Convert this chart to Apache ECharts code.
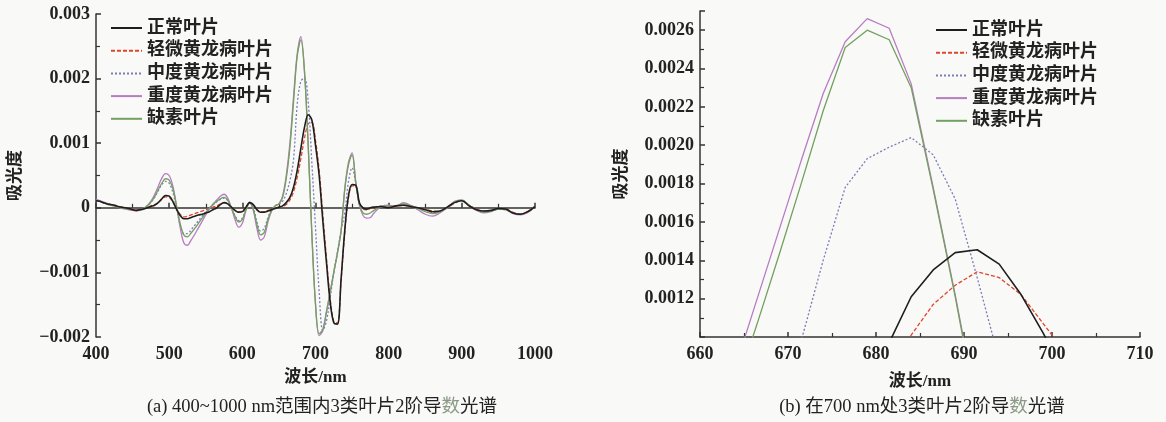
<!DOCTYPE html>
<html><head><meta charset="utf-8">
<script src="https://cdn.jsdelivr.net/npm/echarts@6/dist/echarts.min.js"></script>
<style>html,body{margin:0;padding:0;background:#f9f9f7}#c{width:1166px;height:422px}</style>
</head><body><div id="c"></div>
<script>
// ---------- DATA ----------
const seriesNames = ['正常叶片','轻微黄龙病叶片','中度黄龙病叶片','重度黄龙病叶片','缺素叶片'];

// panel (a): wavelength (nm)
const wlA = [];
for (let w = 400; w <= 780; w += 5) wlA.push(w);
for (let w = 790; w <= 1000; w += 10) wlA.push(w);

const normalA = [0.00011,0.00010,0.00008,0.00006,0.00005,0.00004,0.00002,0.00001,0.0,-0.00001,-0.00003,-0.00004,-0.00003,-0.00002,0.0,0.00002,0.00004,0.00008,0.00014,0.00019,0.00018,0.00010,-0.00002,-0.00012,-0.00017,-0.00017,-0.00015,-0.00013,-0.00011,-0.00010,-0.00008,-0.00006,-0.00003,0.0,0.00005,0.00008,0.00006,0.00001,-0.00004,-0.00007,-0.00006,0.00001,0.00008,0.00005,-0.00003,-0.00007,-0.00007,-0.00005,-0.00003,-0.00001,0.00001,0.00003,0.00008,0.00016,0.00032,0.00058,0.00092,0.00125,0.00144,0.00136,0.00097,0.00050,-0.00020,-0.00085,-0.00145,-0.00178,-0.00180,-0.00110,-0.00035,0.00018,0.00036,0.00035,0.00008,0.0,-0.00002,0.0,0.00001,
0.00002,0.0,0.00003,0.00004,0.00002,0.0,-0.00003,-0.00006,-0.00005,0.00001,0.00008,0.00011,0.00003,-0.00003,-0.00005,-0.00004,-0.00001,-0.00002,-0.00008,-0.00010,-0.00006,0.00002];
const mildA = [0.00012,0.00010,0.00008,0.00007,0.00005,0.00004,0.00003,0.00001,0.0,-0.00001,-0.00002,-0.00003,-0.00003,-0.00001,0.00001,0.00003,0.00005,0.00008,0.00013,0.00017,0.00016,0.00009,-0.00002,-0.00010,-0.00014,-0.00013,-0.00011,-0.00009,-0.00007,-0.00005,-0.00003,-0.00001,0.00001,0.00003,0.00006,0.00008,0.00006,0.00001,-0.00004,-0.00006,-0.00005,0.00001,0.00007,0.00004,-0.00003,-0.00006,-0.00006,-0.00004,-0.00002,0.0,0.00001,0.00002,0.00005,0.00012,0.00025,0.00047,0.00076,0.00108,0.00130,0.00132,0.00104,0.00058,-0.00010,-0.00078,-0.00140,-0.00176,-0.00178,-0.00112,-0.00038,0.00015,0.00034,0.00033,0.00006,-0.00002,-0.00003,-0.00001,0.0,
0.00002,0.00001,0.00002,0.00004,0.00003,0.0,-0.00002,-0.00005,-0.00005,0.0,0.00007,0.00011,0.00004,-0.00002,-0.00005,-0.00005,-0.00002,-0.00002,-0.00007,-0.00010,-0.00007,0.00002];
const moderateA = [0.00012,0.00010,0.00008,0.00006,0.00004,0.00003,0.00001,0.0,-0.00001,-0.00002,-0.00003,-0.00004,-0.00003,-0.00001,0.00003,0.00008,0.00016,0.00026,0.00036,0.00041,0.00038,0.00024,0.0,-0.00026,-0.00040,-0.00040,-0.00034,-0.00027,-0.00020,-0.00013,-0.00006,0.0,0.00005,0.00009,0.00013,0.00015,0.00011,0.0,-0.00012,-0.00020,-0.00016,-0.00002,0.00008,0.0,-0.00022,-0.00036,-0.00032,-0.00015,-0.00003,0.00003,0.00006,0.00010,0.00022,0.00042,0.00075,0.00160,0.00196,0.00201,0.00165,0.00070,-0.00030,-0.00130,-0.00190,-0.00175,-0.00140,-0.00100,-0.00068,-0.00035,-0.00008,0.00040,0.00062,0.00038,0.00005,-0.00002,-0.00002,0.0,0.00001,
0.00003,0.00001,0.00003,0.00005,0.00003,0.0,-0.00003,-0.00007,-0.00006,0.0,0.00008,0.00012,0.00004,-0.00003,-0.00006,-0.00005,-0.00002,-0.00003,-0.00008,-0.00010,-0.00006,0.00003];
const severeA = [0.00013,0.00011,0.00009,0.00007,0.00005,0.00003,0.00001,-0.00001,-0.00002,-0.00003,-0.00004,-0.00005,-0.00004,-0.00002,0.00003,0.00010,0.00020,0.00033,0.00046,0.00053,0.00050,0.00034,0.00004,-0.00030,-0.00054,-0.00058,-0.00050,-0.00041,-0.00031,-0.00021,-0.00011,-0.00002,0.00006,0.00012,0.00018,0.00021,0.00015,0.0,-0.00018,-0.00030,-0.00024,-0.00004,0.00009,-0.00004,-0.00032,-0.00050,-0.00045,-0.00022,-0.00005,0.00003,0.00006,0.00018,0.00050,0.00100,0.00172,0.00238,0.00265,0.00210,0.00098,-0.00040,-0.00150,-0.00198,-0.00190,-0.00160,-0.00130,-0.00100,-0.00070,-0.00035,0.00030,0.00070,0.00085,0.00040,0.00005,-0.00012,-0.00016,-0.00015,-0.00008,
0.00002,0.00004,0.00002,0.00008,0.00004,-0.00003,-0.00010,-0.00013,-0.00008,0.0,0.00010,0.00012,0.00003,-0.00004,-0.00008,-0.00006,-0.00002,-0.00003,-0.00009,-0.00011,-0.00007,0.00002];
const deficiencyA = [0.00012,0.00010,0.00008,0.00006,0.00004,0.00003,0.00001,0.0,-0.00001,-0.00002,-0.00003,-0.00004,-0.00003,-0.00001,0.00003,0.00009,0.00017,0.00028,0.00038,0.00045,0.00043,0.00030,0.00003,-0.00024,-0.00042,-0.00045,-0.00039,-0.00032,-0.00024,-0.00016,-0.00008,-0.00001,0.00005,0.00010,0.00014,0.00016,0.00012,0.0,-0.00013,-0.00022,-0.00018,-0.00003,0.00008,-0.00002,-0.00026,-0.00042,-0.00038,-0.00018,-0.00004,0.00003,0.00006,0.00016,0.00045,0.00093,0.00164,0.00235,0.00260,0.00210,0.00097,-0.00040,-0.00148,-0.00195,-0.00188,-0.00162,-0.00132,-0.00100,-0.00070,-0.00036,0.00028,0.00066,0.00082,0.00040,0.00005,-0.00008,-0.00010,-0.00008,-0.00004,
0.00002,0.00002,0.00003,0.00006,0.00003,-0.00001,-0.00006,-0.00009,-0.00006,0.0,0.00009,0.00012,0.00004,-0.00003,-0.00007,-0.00005,-0.00002,-0.00003,-0.00008,-0.00010,-0.00006,0.00002];

// panel (b): wavelength (nm)
const wlB = [661.5,664,666.5,669,671.5,674,676.5,679,681.5,684,686.5,689,691.5,694,696.5,699,701.5,704];
const normalB     = [0.00006,0.00012,0.00020,0.00030,0.00042,0.00055,0.00066,0.00078,0.00097,0.00121,0.00135,0.00144,0.001455,0.00138,0.00122,0.00102,0.00080,0.00058];
const mildB       = [0.00004,0.00009,0.00015,0.00022,0.00031,0.00041,0.00053,0.00066,0.00083,0.00101,0.00117,0.00127,0.00134,0.00131,0.00122,0.00107,0.00092,0.00065];
const moderateB   = [0.00012,0.00024,0.00040,0.00063,0.00098,0.00140,0.00178,0.00193,0.00199,0.00204,0.00195,0.00172,0.00131,0.00088,0.00030,-0.00020,-0.00080,-0.00130];
const severeB     = [0.00030,0.00084,0.00120,0.00156,0.00192,0.00227,0.00254,0.00266,0.00261,0.00232,0.00178,0.00122,0.00062,-0.00010,-0.00080,-0.00150,-0.00190,-0.00195];
const deficiencyB = [0.00030,0.00072,0.00107,0.00143,0.00180,0.00218,0.00251,0.00260,0.00255,0.00230,0.00177,0.00121,0.00060,-0.00010,-0.00080,-0.00148,-0.00188,-0.00193];

const yTicksB = ['0.0012','0.0014','0.0016','0.0018','0.0020','0.0022','0.0024','0.0026'];

// ---------- CHART ----------
const FONT = "'Liberation Serif','Noto Sans CJK SC',serif";
const colors = ['#1e1e1e','#e0452f','#7c7cb8','#b87cc2','#72a05e'];
const lineTypes = ['solid',[4,2],[2,2],'solid','solid'];
const widths = [1.6,1.3,1.3,1.3,1.3];

function pairs(xs, ys){ return xs.map((x,i)=>[x, ys[i]]); }
const dataA = [normalA, mildA, moderateA, severeA, deficiencyA];
const dataB = [normalB, mildB, moderateB, severeB, deficiencyB];

const axisCommon = {
  axisLine:{show:true, lineStyle:{color:'#333', width:1.5}},
  axisTick:{show:true, inside:true, length:5, lineStyle:{color:'#333', width:1.5}},
  minorTick:{show:true, splitNumber:2, length:4, lineStyle:{color:'#333', width:1.2}},
  splitLine:{show:false},
  axisLabel:{color:'#222', fontFamily:FONT, fontSize:18, fontWeight:'bold'},
  nameTextStyle:{color:'#222', fontFamily:FONT, fontSize:17, fontWeight:'bold'}
};
function axis(extra){ return Object.assign({}, JSON.parse(JSON.stringify(axisCommon)), extra, {
  axisLabel:Object.assign({}, axisCommon.axisLabel, extra.axisLabel||{}) }); }

const series = [];
seriesNames.forEach((n,i)=>{
  series.push({name:n, type:'line', xAxisIndex:0, yAxisIndex:0, data:pairs(wlA, dataA[i]),
    symbol:'none', smooth:0.35, lineStyle:{color:colors[i], type:lineTypes[i], width:widths[i]}, itemStyle:{color:colors[i]}, z: i===0?5:2});
  series.push({name:n, type:'line', xAxisIndex:1, yAxisIndex:1, data:pairs(wlB, dataB[i]),
    symbol:'none', lineStyle:{color:colors[i], type:lineTypes[i], width:widths[i]}, itemStyle:{color:colors[i]}, z: i===0?5:2});
});

const legendCommon = {orient:'vertical', itemWidth:31, itemHeight:10, itemGap:4.7, padding:[5,5,5,0],
  itemStyle:{opacity:0},
  textStyle:{fontFamily:FONT, fontSize:18, color:'#222', lineHeight:18, fontWeight:'bold'}, data:seriesNames, selectedMode:false};

const option = {
  backgroundColor:'#f9f9f7',
  animation:false,
  grid:[{left:96, right:631, top:14, bottom:85}, {left:700, right:26, top:11, bottom:85}],
  xAxis:[
    axis({type:'value', gridIndex:0, min:400, max:1000, interval:100, name:'波长/nm', nameLocation:'middle', nameGap:32,
      axisLabel:{formatter:v=>String(v)}}),
    axis({type:'value', gridIndex:1, min:660, max:710, interval:10, name:'波长/nm', nameLocation:'middle', nameGap:36,
      axisLabel:{formatter:v=>String(v)}})
  ],
  yAxis:[
    axis({type:'value', gridIndex:0, min:-0.002, max:0.003, interval:0.001, name:'吸光度', nameLocation:'middle', nameGap:72,
      axisLabel:{margin:6, formatter:v=> Math.abs(v)<1e-9 ? '0' : (v<0?'\u2212':'') + Math.abs(v).toFixed(3)}}),
    axis({type:'value', gridIndex:1, min:0.001, max:0.0027, interval:0.0002, name:'吸光度', nameLocation:'middle', nameGap:70,
      axisLabel:{margin:6, formatter:v=>{ const s=v.toFixed(4); return yTicksB.indexOf(s)>=0 ? s : ''; }}})
  ],
  legend:[
    Object.assign({}, legendCommon, {left:110, top:14}),
    Object.assign({}, legendCommon, {left:935, top:16})
  ],
  series: series
};
option.graphic = [
  {type:'text', x:322, y:407, style:{text:'(a) 400~1000 nm范围内3类叶片2阶导{g|数}光谱', rich:{g:{fill:'#8a9a86', font:"18.5px "+FONT}}, font:"18.5px "+FONT, fill:'#222', align:'center', verticalAlign:'middle'}},
  {type:'text', x:922, y:407, style:{text:'(b) 在700 nm处3类叶片2阶导{g|数}光谱', rich:{g:{fill:'#8a9a86', font:"18.5px "+FONT}}, font:"18.5px "+FONT, fill:'#222', align:'center', verticalAlign:'middle'}}
];
const chart = echarts.init(document.getElementById('c'), null, {renderer:'canvas'});
chart.setOption(option);
</script></body></html>
